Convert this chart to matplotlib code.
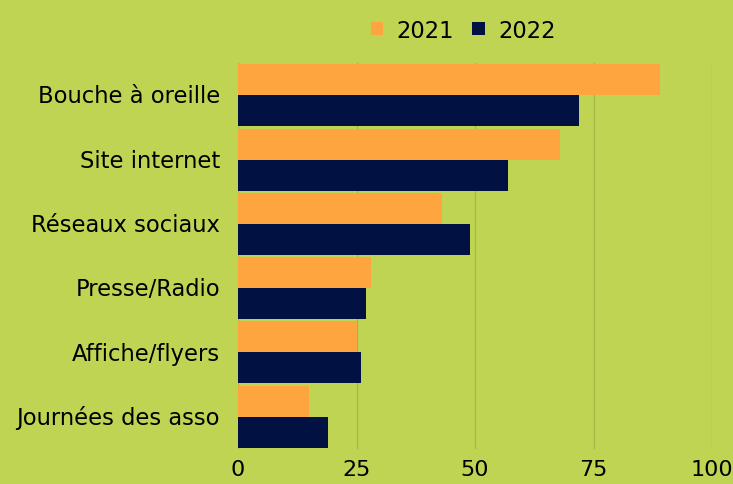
import numpy as np
import matplotlib
matplotlib.use("Agg")
import matplotlib.pyplot as plt

categories = ["Bouche à oreille", "Site internet", "Réseaux sociaux",
              "Presse/Radio", "Affiche/flyers", "Journées des asso"]
values_2021 = [89, 68, 43, 28, 25, 15]
values_2022 = [72, 57, 49, 27, 26, 19]
series_labels = ["2021", "2022"]
xticks = [0, 25, 50, 75, 100]

bg = "#bfd452"
orange = "#ffa53f"
navy = "#001142"
grid = "#a6b845"

plt.rcParams['font.family'] = ['DejaVu Sans']

fig = plt.figure(figsize=(7.33, 4.85), dpi=100, facecolor=bg)
ax = fig.add_axes([0.3247, 0.0722, 0.6467, 0.7958])
ax.set_facecolor(bg)

y = np.arange(len(categories))
h = 0.482
ax.barh(y - h / 2, values_2021, height=h, color=orange, label=series_labels[0], zorder=3)
ax.barh(y + h / 2, values_2022, height=h, color=navy, label=series_labels[1], zorder=3)

ax.set_ylim(len(categories) - 0.5, -0.5)
ax.set_xlim(0, 100)
ax.set_xticks(xticks)
ax.set_yticks(y - 0.03)
ax.set_yticklabels(categories, fontsize=16.3)
ax.tick_params(axis='x', labelsize=16, length=0, pad=7)
ax.tick_params(axis='y', length=0, pad=13)
ax.xaxis.grid(True, color=grid, linewidth=1, zorder=0)
for s in ax.spines.values():
    s.set_visible(False)

fig.legend(loc='center', bbox_to_anchor=(0.632, 0.936), ncol=2, frameon=False,
           fontsize=16.3, handlelength=0.55, handleheight=0.55, handletextpad=0.6,
           columnspacing=0.8)

fig.savefig("out.png", dpi=100, facecolor=bg)
